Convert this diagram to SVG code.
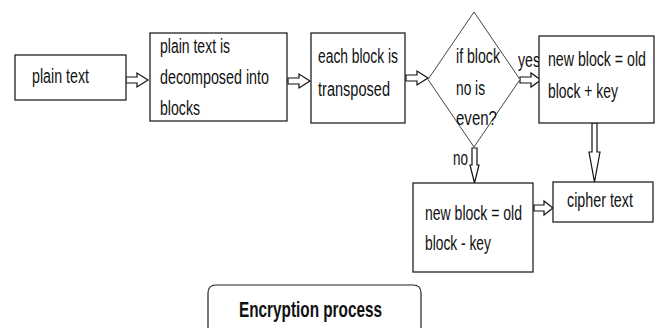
<svg xmlns="http://www.w3.org/2000/svg" width="658" height="328" viewBox="0 0 658 328">
  <style>
    .box { fill: #ffffff; stroke: #222222; stroke-width: 1.3; }
    .dia { fill: #ffffff; stroke: #444444; stroke-width: 1; }
    .arr { fill: #ffffff; stroke: #111111; stroke-width: 1.2; stroke-linejoin: miter; }
    .t { font-family: "Liberation Sans", Arial, sans-serif; font-size: 21px; fill: #111111; }
    .tb { font-family: "Liberation Sans", Arial, sans-serif; font-size: 22px; font-weight: bold; fill: #111111; }
  </style>
  <rect width="658" height="328" fill="#ffffff"/>

  <!-- connectors: outlined block arrows; labels use a condensed horizontal scale -->
  <g id="connectors">
    <polygon class="arr" points="126,77 137,77 137,73 148,80 137,87 137,83 126,83"/>
    <polygon class="arr" points="288,78 299,78 299,74 310,81 299,88 299,84 288,84"/>
    <polygon class="arr" points="406,75 417,75 417,71 428,78 417,85 417,81 406,81"/>
    <polygon class="arr" points="520,77 531,77 531,73 541,80 531,87 531,83 520,83"/>
    <polygon class="arr" points="592,123 597,123 597,152 600,152 594.5,182 589,152 592,152"/>
    <polygon class="arr" points="472,148 477,148 477,165 479,165 474.5,183 470,165 472,165"/>
    <polygon class="arr" points="534,205 544,205 544,201 553,208 544,215 544,211 534,211"/>
    <text class="t" transform="translate(518,67) scale(0.64,1)" textLength="34.4" lengthAdjust="spacingAndGlyphs">yes</text>
    <text class="t" transform="translate(453,165) scale(0.64,1)" textLength="23.4" lengthAdjust="spacingAndGlyphs">no</text>
  </g>

  <g id="plain-text">
    <rect class="box" x="15" y="55" width="111" height="45"/>
    <text class="t" transform="translate(32,83) scale(0.64,1)" textLength="89" lengthAdjust="spacingAndGlyphs">plain text</text>
  </g>

  <g id="decompose">
    <rect class="box" x="150" y="33" width="137" height="88"/>
    <text class="t" transform="translate(160,53) scale(0.64,1)" textLength="109.4" lengthAdjust="spacingAndGlyphs">plain text is</text>
    <text class="t" transform="translate(160,84) scale(0.64,1)" textLength="170.3" lengthAdjust="spacingAndGlyphs">decomposed into</text>
    <text class="t" transform="translate(160,115) scale(0.64,1)" textLength="62.5" lengthAdjust="spacingAndGlyphs">blocks</text>
  </g>

  <g id="transpose">
    <rect class="box" x="311" y="33" width="94" height="90"/>
    <text class="t" transform="translate(318,63) scale(0.64,1)" textLength="125" lengthAdjust="spacingAndGlyphs">each block is</text>
    <text class="t" transform="translate(318,96) scale(0.64,1)" textLength="112.5" lengthAdjust="spacingAndGlyphs">transposed</text>
  </g>

  <g id="decision">
    <polygon class="dia" points="474,12 520,79.5 474,147 428,79.5"/>
    <text class="t" transform="translate(456,63) scale(0.64,1)" textLength="68.75" lengthAdjust="spacingAndGlyphs">if block</text>
    <text class="t" transform="translate(456,95) scale(0.64,1)" textLength="45.3" lengthAdjust="spacingAndGlyphs">no is</text>
    <text class="t" transform="translate(456,125) scale(0.64,1)" textLength="64" lengthAdjust="spacingAndGlyphs">even?</text>
  </g>

  <g id="add-key">
    <rect class="box" x="539" y="36" width="115" height="87"/>
    <text class="t" transform="translate(548,66) scale(0.64,1)" textLength="153" lengthAdjust="spacingAndGlyphs">new block = old</text>
    <text class="t" transform="translate(548,98) scale(0.64,1)" textLength="109.4" lengthAdjust="spacingAndGlyphs">block + key</text>
  </g>

  <g id="sub-key">
    <rect class="box" x="413" y="183" width="120" height="89"/>
    <text class="t" transform="translate(425,220) scale(0.64,1)" textLength="151.6" lengthAdjust="spacingAndGlyphs">new block = old</text>
    <text class="t" transform="translate(425,250) scale(0.64,1)" textLength="103" lengthAdjust="spacingAndGlyphs">block - key</text>
  </g>

  <g id="cipher-text">
    <rect class="box" x="553" y="182" width="100" height="40"/>
    <text class="t" transform="translate(567,207) scale(0.64,1)" textLength="103" lengthAdjust="spacingAndGlyphs">cipher text</text>
  </g>

  <g id="caption">
    <path d="M208,328 L208,293 Q208,285 216,285 L413,285 Q421,285 421,293 L421,328" fill="none" stroke="#222222" stroke-width="1.2"/>
    <text class="tb" transform="translate(239,317) scale(0.67,1)" textLength="213.4" lengthAdjust="spacingAndGlyphs">Encryption process</text>
  </g>
</svg>
